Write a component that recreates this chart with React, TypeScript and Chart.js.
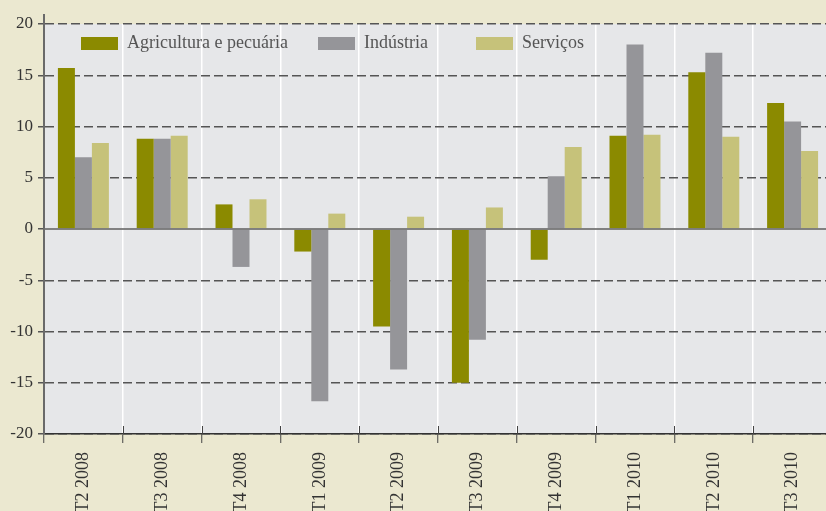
import React, { useEffect, useRef } from "react";
import { Chart, registerables } from "chart.js";

Chart.register(...registerables);

const categories = ["T2 2008", "T3 2008", "T4 2008", "T1 2009", "T2 2009", "T3 2009", "T4 2009", "T1 2010", "T2 2010", "T3 2010"];
const agricultura = [15.7, 8.8, 2.4, -2.2, -9.5, -15.0, -3.0, 9.1, 15.3, 12.3];
const industria = [7.0, 8.8, -3.7, -16.8, -13.7, -10.8, 5.15, 18.0, 17.2, 10.5];
const servicos = [8.4, 9.1, 2.9, 1.5, 1.2, 2.1, 8.0, 9.2, 9.0, 7.6];
const seriesNames = ["Agricultura e pecuária", "Indústria", "Serviços"];
const seriesColors = ["#8b8a00", "#959599", "#c6c27a"];
const yMin = -20;
const yMax = 20;
const yStep = 5;

const FONT = "'Liberation Serif', 'DejaVu Serif', serif";

const decorPlugin = {
  id: "decor",
  beforeDraw(chart: any) {
    const { ctx, chartArea } = chart;
    ctx.save();
    ctx.fillStyle = "#ebe8d0";
    ctx.fillRect(0, 0, chart.width, chart.height);
    ctx.fillStyle = "#e6e7e9";
    ctx.fillRect(chartArea.left, chartArea.top, chartArea.right - chartArea.left, chartArea.bottom - chartArea.top);
    ctx.restore();
  },
  afterDatasetsDraw(chart: any) {
    const { ctx, chartArea, scales } = chart;
    const y0 = scales.y.getPixelForValue(0);
    ctx.save();
    // zero line
    ctx.strokeStyle = "rgba(110,110,110,0.85)";
    ctx.lineWidth = 2;
    ctx.beginPath();
    ctx.moveTo(chartArea.left, y0);
    ctx.lineTo(chartArea.right, y0);
    ctx.stroke();
    // tick marks crossing the x axis (upper part)
    const xs = scales.x;
    const half = (xs.getPixelForValue(1) - xs.getPixelForValue(0)) / 2;
    ctx.strokeStyle = "#444";
    ctx.lineWidth = 1;
    for (let i = 1; i < categories.length; i++) {
      const px = Math.round(xs.getPixelForValue(i) - half) + 0.5;
      ctx.beginPath();
      ctx.moveTo(px, chartArea.bottom - 8);
      ctx.lineTo(px, chartArea.bottom);
      ctx.stroke();
    }
    // y axis extends slightly above the top
    ctx.strokeStyle = "#6a6a6a";
    ctx.lineWidth = 2;
    ctx.beginPath();
    ctx.moveTo(chartArea.left, chartArea.top - 10);
    ctx.lineTo(chartArea.left, chartArea.top);
    ctx.stroke();
    // legend inside the plot
    const offsets = [37, 274, 432];
    ctx.font = `18px ${FONT}`;
    ctx.textBaseline = "middle";
    ctx.textAlign = "left";
    chart.data.datasets.forEach((ds: any, i: number) => {
      const bx = chartArea.left + offsets[i];
      const by = chartArea.top + 13;
      ctx.fillStyle = ds.backgroundColor;
      ctx.fillRect(bx, by, 37, 13);
      ctx.fillStyle = "#555";
      ctx.fillText(ds.label, bx + 46, by + 6);
    });
    ctx.restore();
  },
};

export default function App() {
  const ref = useRef<HTMLCanvasElement | null>(null);

  useEffect(() => {
    if (!ref.current) return;
    const chart = new Chart(ref.current, {
      type: "bar",
      data: {
        labels: categories,
        datasets: [
          { label: seriesNames[0], data: agricultura, backgroundColor: seriesColors[0] },
          { label: seriesNames[1], data: industria, backgroundColor: seriesColors[1] },
          { label: seriesNames[2], data: servicos, backgroundColor: seriesColors[2] },
        ],
      },
      options: {
        responsive: false,
        animation: false,
        devicePixelRatio: 1,
        layout: { padding: { top: 24, right: 0, left: 0, bottom: 0 } },
        datasets: { bar: { categoryPercentage: 0.647, barPercentage: 1 } },
        plugins: { legend: { display: false }, tooltip: { enabled: false } },
        scales: {
          x: {
            afterFit(scale: any) {
              scale.height = 77;
            },
            grid: {
              color: "#ffffff",
              lineWidth: 1.5,
              offset: true,
              tickColor: "#444",
              tickLength: 9,
              tickWidth: 1,
            },
            border: { display: true, color: "#333", width: 1.5 },
            ticks: {
              minRotation: 90,
              maxRotation: 90,
              autoSkip: false,
              padding: 9,
              color: "#333",
              font: { family: FONT, size: 18 },
            },
          },
          y: {
            min: yMin,
            max: yMax,
            afterFit(scale: any) {
              scale.width = 44;
            },
            grid: {
              color: (c: any) => (c.tick && c.tick.value === 0 ? "rgba(0,0,0,0)" : "#555"),
              lineWidth: 1.5,
              tickColor: "#555",
              tickLength: 6,
              tickBorderDash: [],
            },
            border: { display: true, color: "#6a6a6a", width: 2, dash: [9, 4] },
            ticks: {
              stepSize: yStep,
              padding: 5,
              color: "#333",
              font: { family: FONT, size: 17 },
            },
          },
        },
      },
      plugins: [decorPlugin],
    } as any);
    return () => chart.destroy();
  }, []);

  return (
    <div style={{ position: "absolute", left: 0, top: 0, width: 826, height: 511, overflow: "hidden", background: "#ebe8d0" }}>
      <canvas ref={ref} width={832} height={511} style={{ display: "block", width: 832, height: 511 }} />
    </div>
  );
}
